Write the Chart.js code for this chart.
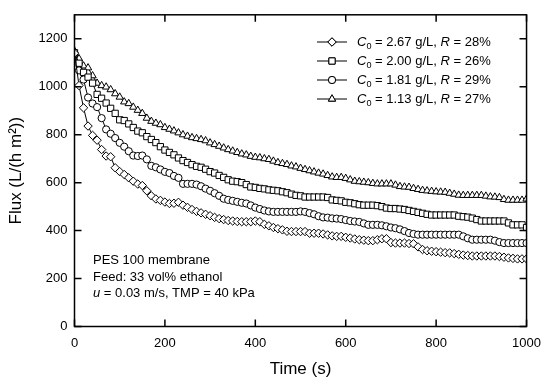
<!DOCTYPE html>
<html>
<head>
<meta charset="utf-8">
<script src="https://cdn.jsdelivr.net/npm/chart.js@4.4.0/dist/chart.umd.min.js"></script>
<style>
  body { margin: 0; background: #fff; }
  #wrap { width: 550px; height: 384px; }
</style>
</head>
<body>
<div id="wrap"><canvas id="fluxChart" width="550" height="384"></canvas></div>
<script>
const FONT = "'Liberation Sans', Arial, sans-serif";

// time (s), one reading every 10 s
const times = [0,10,20,30,40,50,60,70,80,90,
  100,110,120,130,140,150,160,170,180,190,
  200,210,220,230,240,250,260,270,280,290,
  300,310,320,330,340,350,360,370,380,390,
  400,410,420,430,440,450,460,470,480,490,
  500,510,520,530,540,550,560,570,580,590,
  600,610,620,630,640,650,660,670,680,690,
  700,710,720,730,740,750,760,770,780,790,
  800,810,820,830,840,850,860,870,880,890,
  900,910,920,930,940,950,960,970,980,990,
  1000];

// flux, L/(h m2)
const flux267 = [1140,1005,912,836,797,777,738,711,708,662,
  646,634,620,606,594,588,566,545,532,526,
  519,513,514,518,506,497,488,480,474,468,
  462,455,450,446,442,440,438,437,437,437,
  440,437,426,420,413,408,403,397,396,396,
  396,396,389,389,389,386,382,378,376,376,
  372,369,365,362,360,358,358,362,366,366,
  350,348,348,348,346,345,332,321,316,314,
  312,310,308,307,304,301,298,296,294,294,
  294,294,294,294,292,289,286,284,282,282,
  282];
const flux200 = [1142,1098,1060,1040,1015,968,952,932,910,889,
  862,859,845,830,815,808,792,780,767,750,
  736,726,716,703,692,684,675,668,664,656,
  646,640,630,622,612,606,604,600,592,582,
  580,576,574,570,568,566,562,558,552,547,
  545,540,540,540,540,540,538,528,526,524,
  518,516,512,508,506,506,506,504,500,494,
  492,492,490,488,484,480,476,472,468,465,
  465,465,465,465,465,460,458,456,452,446,
  440,440,440,440,440,440,432,424,424,424,
  413];
const flux181 = [1135,1068,1030,955,930,915,869,822,804,786,
  766,750,731,713,711,713,697,670,664,655,
  645,640,628,620,595,595,595,592,585,575,
  566,556,545,533,528,524,520,516,513,505,
  496,490,484,480,478,478,478,478,478,478,
  480,478,473,468,460,455,454,451,450,448,
  444,440,438,436,430,424,424,424,422,418,
  413,410,405,398,390,386,383,383,383,383,
  383,383,383,383,383,383,376,368,362,362,
  362,362,362,358,352,348,348,348,348,348,
  348];
const flux113 = [1149,1117,1087,1079,1046,1015,1005,999,988,971,
  957,937,930,915,902,889,869,856,848,842,
  830,823,816,808,800,794,788,784,780,775,
  766,759,752,745,738,732,726,720,716,710,
  706,704,700,697,690,684,680,676,670,666,
  660,655,650,645,640,636,630,624,622,622,
  618,612,606,604,602,600,597,595,595,595,
  595,590,584,582,581,576,572,568,566,564,
  562,561,560,556,552,548,547,547,547,547,
  547,544,541,540,538,530,527,527,527,527,
  532];

const concentrations = ['2.67', '2.00', '1.81', '1.13'];
const rejections = ['28', '26', '29', '27'];
const markerStyles = ['rectRot', 'rect', 'circle', 'triangle'];
const markerRadii = [4.2, 4.4, 3.6, 4.2];
const seriesValues = [flux267, flux200, flux181, flux113];

const xTicks = [0, 200, 400, 600, 800, 1000];
const yTicks = [0, 200, 400, 600, 800, 1000, 1200];

const noteLines = [
  [{ t: 'PES 100 membrane' }],
  [{ t: 'Feed: 33 vol% ethanol' }],
  [{ t: 'u', i: true }, { t: ' = 0.03 m/s, TMP = 40 kPa' }]
];

const datasets = seriesValues.map((vals, k) => ({
  label: 'C0 = ' + concentrations[k] + ' g/L, R = ' + rejections[k] + '%',
  data: vals.map((v, j) => ({ x: times[j], y: v })),
  borderColor: '#000',
  borderWidth: 1,
  backgroundColor: '#fff',
  pointStyle: markerStyles[k],
  pointRadius: markerRadii[k],
  pointBorderColor: '#000',
  pointBackgroundColor: '#fff',
  pointBorderWidth: 1,
  tension: 0,
  fill: false
}));

// draws text pieces with italic / subscript runs
function drawRuns(ctx, x, y, runs, size) {
  ctx.textBaseline = 'middle';
  ctx.textAlign = 'left';
  runs.forEach(r => {
    const fs = r.sub ? size * 0.7 : size;
    ctx.font = (r.i ? 'italic ' : '') + fs + 'px ' + FONT;
    ctx.fillText(r.t, x, r.sub ? y + 4 : y);
    x += ctx.measureText(r.t).width;
  });
}

const framePlugin = {
  id: 'frame',
  afterDraw(chart) {
    const ctx = chart.ctx;
    const a = chart.chartArea;
    const xs = chart.scales.x, ys = chart.scales.y;
    const tl = 7;
    ctx.save();
    ctx.strokeStyle = '#000';
    ctx.lineWidth = 1.5;
    ctx.strokeRect(a.left, a.top, a.right - a.left, a.bottom - a.top);
    ctx.beginPath();
    xTicks.forEach(v => {
      const px = xs.getPixelForValue(v);
      ctx.moveTo(px, a.bottom); ctx.lineTo(px, a.bottom - tl);
      ctx.moveTo(px, a.top); ctx.lineTo(px, a.top + tl);
    });
    yTicks.forEach(v => {
      const py = ys.getPixelForValue(v);
      ctx.moveTo(a.left, py); ctx.lineTo(a.left + tl, py);
      ctx.moveTo(a.right, py); ctx.lineTo(a.right - tl, py);
    });
    ctx.stroke();

    // legend
    ctx.fillStyle = '#000';
    ctx.lineWidth = 1;
    const lx0 = 317, lx1 = 347, tx = 357;
    const rowY = [42, 61, 80, 99];
    datasets.forEach((ds, k) => {
      const y = rowY[k];
      ctx.strokeStyle = '#000';
      ctx.beginPath();
      ctx.moveTo(lx0, y); ctx.lineTo(lx1, y);
      ctx.stroke();
      ctx.fillStyle = '#fff';
      Chart.helpers.drawPoint(ctx, {
        pointStyle: ds.pointStyle, radius: ds.pointRadius, borderWidth: 1, rotation: 0
      }, (lx0 + lx1) / 2, y);
      ctx.fill();
      ctx.stroke();
      ctx.fillStyle = '#000';
      drawRuns(ctx, tx, y, [
        { t: 'C', i: true }, { t: '0', sub: true },
        { t: ' = ' + concentrations[k] + ' g/L, ' },
        { t: 'R', i: true }, { t: ' = ' + rejections[k] + '%' }
      ], 13);
    });

    // operating conditions
    const noteY = [260, 277, 293];
    noteLines.forEach((runs, k) => drawRuns(ctx, 93, noteY[k], runs, 13));
    ctx.restore();
  }
};

new Chart(document.getElementById('fluxChart'), {
  type: 'line',
  data: { datasets },
  options: {
    responsive: false,
    animation: false,
    layout: { padding: { left: 0, right: 22, top: 10, bottom: 0 } },
    plugins: { legend: { display: false }, tooltip: { enabled: false } },
    scales: {
      x: {
        type: 'linear',
        min: 0, max: 1000,
        afterFit: s => { s.height = 57.5; },
        border: { display: false },
        grid: { display: false, drawTicks: false },
        ticks: { stepSize: 200, padding: 9, color: '#000', maxRotation: 0, callback: v => String(v), font: { family: FONT, size: 13 } },
        title: { display: true, text: 'Time (s)', color: '#000', font: { family: FONT, size: 17 }, padding: { top: 4, bottom: 4 } }
      },
      y: {
        min: 0, max: 1300,
        afterFit: s => { s.width = 74.5; },
        border: { display: false },
        grid: { display: false, drawTicks: false },
        ticks: { stepSize: 200, includeBounds: false, padding: 7, color: '#000', callback: v => String(v), font: { family: FONT, size: 13 } },
        title: { display: true, text: 'Flux (L/(h m²))', color: '#000', font: { family: FONT, size: 17 }, padding: { top: 6, bottom: 4 } }
      }
    }
  },
  plugins: [framePlugin]
});
</script>
</body>
</html>
